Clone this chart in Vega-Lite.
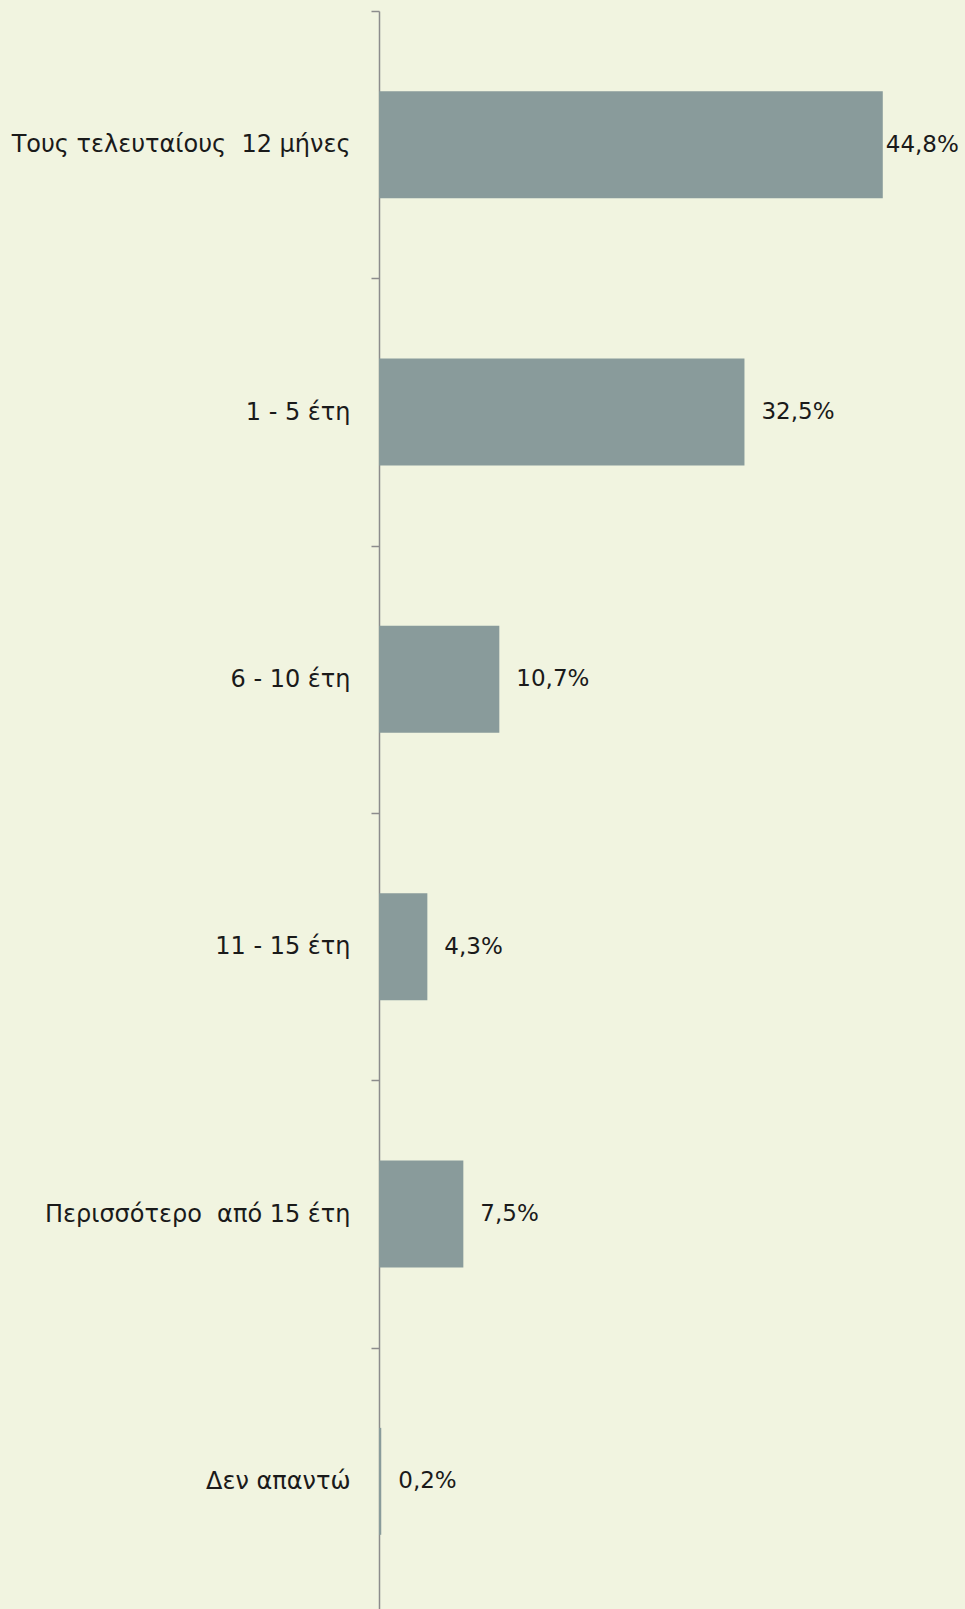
{
  "$schema": "https://vega.github.io/schema/vega-lite/v6.json",
  "width": 562.25,
  "height": 1604,
  "autosize": {"type": "none"},
  "padding": {"left": 379, "top": 11, "right": 24, "bottom": 0},
  "background": "#F1F4E0",
  "config": {
    "view": {"stroke": null},
    "locale": {"number": {"decimal": ",", "thousands": ".", "grouping": [3], "currency": ["", " €"]}},
    "font": "DejaVu Sans"
  },
  "data": {
    "values": [
      {"category": "Τους τελευταίους \u00a012 μήνες", "value": 0.448},
      {"category": "1 - 5 έτη", "value": 0.325},
      {"category": "6 - 10 έτη", "value": 0.107},
      {"category": "11 - 15 έτη", "value": 0.043},
      {"category": "Περισσότερο \u00a0από 15 έτη", "value": 0.075},
      {"category": "Δεν απαντώ", "value": 0.002}
    ]
  },
  "encoding": {
    "y": {
      "field": "category",
      "type": "nominal",
      "sort": null,
      "title": null,
      "scale": {"paddingInner": 0, "paddingOuter": 0},
      "axis": {
        "domainColor": "#8C8C8C",
        "domainWidth": 1.5,
        "tickColor": "#8C8C8C",
        "tickWidth": 1.5,
        "tickSize": 8,
        "tickBand": "extent",
        "labelFontSize": 24,
        "labelColor": "#1A1A1A",
        "labelPadding": 21,
        "labelLimit": 400,
        "labelFont": "DejaVu Sans"
      }
    },
    "x": {
      "field": "value",
      "type": "quantitative",
      "scale": {"domain": [0, 0.5], "nice": false},
      "axis": null
    }
  },
  "layer": [
    {"mark": {"type": "bar", "color": "#899B9B", "height": {"band": 0.4}}},
    {
      "transform": [{"filter": "datum.value < 0.4"}],
      "mark": {"type": "text", "align": "left", "baseline": "middle", "dx": 17, "fontSize": 23, "color": "#1A1A1A", "font": "DejaVu Sans"},
      "encoding": {"text": {"field": "value", "type": "quantitative", "format": ".1%"}}
    },
    {
      "transform": [{"filter": "datum.value >= 0.4"}],
      "mark": {"type": "text", "align": "left", "baseline": "middle", "dx": 3, "fontSize": 23, "color": "#1A1A1A", "font": "DejaVu Sans"},
      "encoding": {"text": {"field": "value", "type": "quantitative", "format": ".1%"}}
    }
  ]
}
